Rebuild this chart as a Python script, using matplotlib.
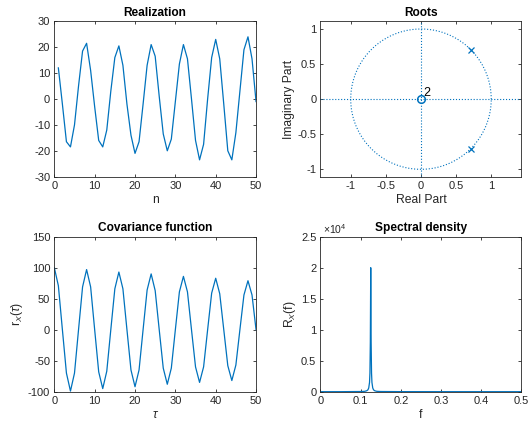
import numpy as np
import matplotlib
matplotlib.use("Agg")
import matplotlib.pyplot as plt
from matplotlib.ticker import FuncFormatter

# realization x(n), n = 1..50
n = list(range(1, 51))
x = [12, -2, -16.5, -18.5, -10, 5, 18.5, 21.5, 11, -3,
     -16, -18.5, -12, 3, 16, 20.5, 13, -2, -14, -21,
     -16.5, -2, 13, 21, 16.5, 1, -13.5, -20, -15.5, -1,
     13.5, 21, 15.5, 0, -16, -23.5, -17.5, 0, 16, 23,
     15.5, -2, -20, -23.5, -13, 3, 19, 24, 15.5, -1]

# poles and zeros
poles_re = [0.707, 0.707]
poles_im = [0.707, -0.707]
zeros_re = [0.0]
zeros_im = [0.0]
zero_mult = "2"

# covariance function r_X(tau), tau = 0..50
tau = list(range(0, 51))
r = [100, 71, 0, -70, -99, -70, 0, 69, 97, 69,
     0, -68, -95, -67, 0, 66, 93, 66, 0, -65,
     -92, -65, 0, 64, 90, 63, 0, -62, -88, -62,
     0, 61, 86, 61, 0, -60, -85, -60, 0, 59,
     83, 58, 0, -58, -82, -57, 0, 56, 79, 56, 0]

# spectral density
f = [0, 0.05, 0.1, 0.11, 0.115, 0.118, 0.12, 0.122, 0.123, 0.124, 0.125,
     0.126, 0.127, 0.128, 0.13, 0.132, 0.135, 0.14, 0.15, 0.2, 0.3, 0.4, 0.5]
R = [2, 5, 30, 60, 150, 300, 600, 1500, 3000, 8000, 20000,
     8000, 3000, 1500, 600, 300, 150, 60, 30, 10, 4, 3, 2]

blue = "#0072BD"
dark = "#262626"

plt.rcParams["font.family"] = ["Liberation Sans", "DejaVu Sans"]
plt.rcParams["mathtext.fontset"] = "custom"
plt.rcParams["mathtext.rm"] = "Liberation Sans"
plt.rcParams["mathtext.it"] = "Liberation Sans:italic"
plt.rcParams["axes.unicode_minus"] = False
plt.rcParams["font.size"] = 8
plt.rcParams["axes.labelsize"] = 8.7
plt.rcParams["axes.linewidth"] = 0.6
plt.rcParams["axes.edgecolor"] = dark
plt.rcParams["xtick.color"] = dark
plt.rcParams["ytick.color"] = dark
plt.rcParams["xtick.direction"] = "in"
plt.rcParams["ytick.direction"] = "in"
plt.rcParams["xtick.top"] = True
plt.rcParams["ytick.right"] = True
plt.rcParams["xtick.major.size"] = 2.5
plt.rcParams["ytick.major.size"] = 2.5
plt.rcParams["xtick.major.width"] = 0.6
plt.rcParams["ytick.major.width"] = 0.6
plt.rcParams["xtick.major.pad"] = 3
plt.rcParams["ytick.major.pad"] = 3

fig = plt.figure(figsize=(5.3, 4.23), dpi=100)
ax1 = fig.add_axes([0.1025, 0.5823, 0.3806, 0.3674])
ax2 = fig.add_axes([0.6047, 0.5823, 0.3792, 0.3674])
ax3 = fig.add_axes([0.1025, 0.0740, 0.3806, 0.3664])
ax4 = fig.add_axes([0.6047, 0.0740, 0.3792, 0.3664])

def style(ax, title):
    ax.set_title(title, fontsize=8.6, fontweight="bold", color="black", pad=4)
    ax.xaxis.label.set_color(dark)
    ax.yaxis.label.set_color(dark)

# Realization
ax1.plot(n, x, color=blue, lw=0.9)
ax1.set_xlim(0, 50)
ax1.set_ylim(-30, 30)
ax1.set_xticks(range(0, 51, 10))
ax1.set_yticks(range(-30, 31, 10))
ax1.set_xlabel("n", labelpad=2)
style(ax1, "Realization")

# Roots
t = np.linspace(0, 2 * np.pi, 200)
ax2.plot(np.cos(t), np.sin(t), ls=":", color=blue, lw=0.8)
ax2.axhline(0, ls=":", color=blue, lw=0.8)
ax2.axvline(0, ls=":", color=blue, lw=0.8)
ax2.plot(poles_re, poles_im, "x", color=blue, ms=5, mew=0.9)
ax2.plot(zeros_re, zeros_im, "o", color=blue, ms=5.5, mfc="none", mew=1.1)
ax2.text(zeros_re[0] + 0.04, zeros_im[0] + 0.0, zero_mult, fontsize=9,
         color="black", ha="left", va="bottom")
ax2.set_xlim(-1.43, 1.43)
ax2.set_ylim(-1.105, 1.11)
ax2.set_xticks([-1, -0.5, 0, 0.5, 1])
ax2.set_yticks([-1, -0.5, 0, 0.5, 1])
ax2.set_xticklabels(["-1", "-0.5", "0", "0.5", "1"])
ax2.set_yticklabels(["-1", "-0.5", "0", "0.5", "1"])
ax2.set_xlabel("Real Part", labelpad=2)
ax2.set_ylabel("Imaginary Part", labelpad=2)
style(ax2, "Roots")

# Covariance
ax3.plot(tau, r, color=blue, lw=0.9)
ax3.set_xlim(0, 50)
ax3.set_ylim(-100, 150)
ax3.set_xticks(range(0, 51, 10))
ax3.set_yticks(range(-100, 151, 50))
ax3.set_xlabel(r"$\tau$", labelpad=2)
ax3.set_ylabel(r"r$_X$($\tau$)", labelpad=2)
style(ax3, "Covariance function")

# Spectral density
ax4.plot(f, R, color=blue, lw=0.9)
ax4.set_xlim(0, 0.5)
ax4.set_ylim(0, 25000)
ax4.set_xticks([0, 0.1, 0.2, 0.3, 0.4, 0.5])
ax4.set_xticklabels(["0", "0.1", "0.2", "0.3", "0.4", "0.5"])
ax4.set_yticks([0, 5000, 10000, 15000, 20000, 25000])
ax4.yaxis.set_major_formatter(FuncFormatter(lambda v, p: "%g" % (v / 1e4)))
ax4.text(0.01, 1.005, r"$\times$10$^4$", transform=ax4.transAxes, fontsize=7.5,
         color=dark, ha="left", va="bottom")
ax4.set_xlabel("f", labelpad=2)
ax4.set_ylabel(r"R$_X$(f)", labelpad=2)
style(ax4, "Spectral density")

fig.savefig("out.png", dpi=100)
